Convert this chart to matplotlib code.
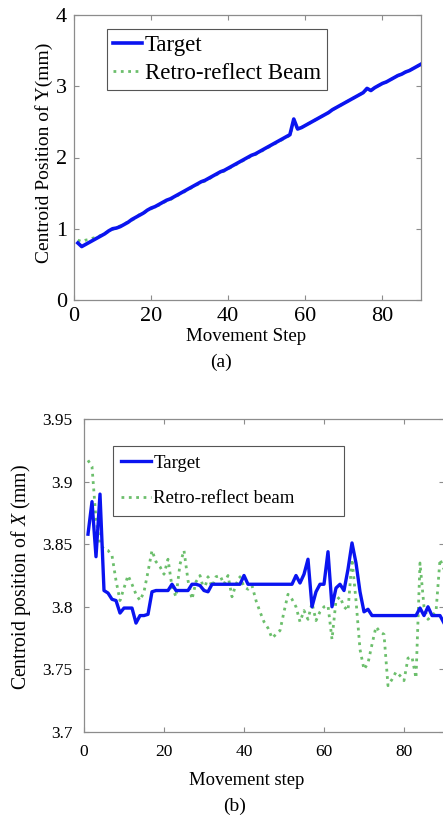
import numpy as np
import matplotlib.pyplot as plt
from matplotlib.ticker import FormatStrFormatter

plt.rcParams['font.family'] = ['Liberation Serif', 'DejaVu Serif']
plt.rcParams['mathtext.fontset'] = 'custom'
plt.rcParams['mathtext.it'] = 'Liberation Serif:italic'
plt.rcParams['mathtext.rm'] = 'Liberation Serif'

# (a) centroid position of Y
steps_a = np.arange(1, 91)
target_y = [0.80, 0.75, 0.78, 0.81, 0.84, 0.87, 0.90, 0.93, 0.97, 1.00,
            1.01, 1.03, 1.06, 1.09, 1.13, 1.16, 1.19, 1.22, 1.26, 1.29,
            1.31, 1.34, 1.37, 1.40, 1.42, 1.45, 1.48, 1.51, 1.54, 1.57,
            1.60, 1.63, 1.66, 1.68, 1.71, 1.74, 1.77, 1.80, 1.82, 1.85,
            1.88, 1.91, 1.94, 1.97, 2.00, 2.03, 2.05, 2.08, 2.11, 2.14,
            2.17, 2.20, 2.23, 2.26, 2.29, 2.32, 2.54, 2.40, 2.42, 2.45,
            2.48, 2.51, 2.54, 2.57, 2.60, 2.63, 2.67, 2.70, 2.73, 2.76,
            2.79, 2.82, 2.85, 2.88, 2.91, 2.97, 2.94, 2.98, 3.01, 3.04,
            3.06, 3.09, 3.12, 3.15, 3.17, 3.20, 3.22, 3.25, 3.28, 3.31]
retro_y = [0.84, 0.82, 0.84, 0.85, 0.87, 0.88, 0.91, 0.94, 0.96, 0.99,
           1.02, 1.04, 1.06, 1.10, 1.12, 1.15, 1.20, 1.22, 1.25, 1.28,
           1.31, 1.33, 1.36, 1.39, 1.41, 1.44, 1.47, 1.50, 1.53, 1.56,
           1.59, 1.62, 1.65, 1.67, 1.70, 1.73, 1.76, 1.79, 1.81, 1.84,
           1.87, 1.90, 1.93, 1.96, 1.99, 2.02, 2.04, 2.07, 2.10, 2.13,
           2.16, 2.19, 2.22, 2.25, 2.28, 2.31, 2.50, 2.40, 2.42, 2.45,
           2.48, 2.51, 2.54, 2.57, 2.60, 2.63, 2.67, 2.70, 2.73, 2.76,
           2.79, 2.82, 2.85, 2.88, 2.91, 2.96, 2.94, 2.98, 3.01, 3.04,
           3.06, 3.09, 3.12, 3.15, 3.17, 3.20, 3.22, 3.25, 3.28, 3.31]

# (b) centroid position of X
steps_b = np.arange(1, 91)
target_x = [3.858, 3.884, 3.840, 3.890, 3.813, 3.811, 3.806, 3.805, 3.795, 3.799,
            3.799, 3.799, 3.787, 3.793, 3.793, 3.794, 3.812, 3.813, 3.813, 3.813,
            3.813, 3.818, 3.813, 3.813, 3.813, 3.813, 3.818, 3.818, 3.817, 3.813,
            3.812, 3.818, 3.818, 3.818, 3.818, 3.818, 3.818, 3.818, 3.818, 3.825,
            3.818, 3.818, 3.818, 3.818, 3.818, 3.818, 3.818, 3.818, 3.818, 3.818,
            3.818, 3.818, 3.825, 3.819, 3.826, 3.838, 3.800, 3.812, 3.818, 3.818,
            3.844, 3.800, 3.815, 3.818, 3.813, 3.830, 3.851, 3.835, 3.812, 3.796,
            3.798, 3.793, 3.793, 3.793, 3.793, 3.793, 3.793, 3.793, 3.793, 3.793,
            3.793, 3.793, 3.793, 3.799, 3.793, 3.800, 3.793, 3.793, 3.793, 3.787]
retro_x = [3.917, 3.912, 3.870, 3.850, 3.846, 3.845, 3.841, 3.821, 3.805, 3.815,
           3.825, 3.818, 3.810, 3.805, 3.812, 3.828, 3.845, 3.836, 3.832, 3.826,
           3.838, 3.816, 3.808, 3.834, 3.845, 3.821, 3.806, 3.820, 3.825, 3.813,
           3.824, 3.816, 3.824, 3.825, 3.818, 3.825, 3.808, 3.818, 3.824, 3.816,
           3.814, 3.817, 3.805, 3.796, 3.788, 3.783, 3.775, 3.778, 3.781, 3.796,
           3.810, 3.806, 3.800, 3.788, 3.797, 3.790, 3.803, 3.789, 3.796, 3.800,
           3.801, 3.774, 3.805, 3.808, 3.800, 3.797, 3.838, 3.805, 3.766, 3.750,
           3.755, 3.770, 3.784, 3.780, 3.778, 3.737, 3.742, 3.748, 3.745, 3.741,
           3.759, 3.760, 3.743, 3.835, 3.800, 3.790, 3.793, 3.796, 3.838, 3.830]

blue = '#0a14f0'
green = '#6cbf6c'
spine_c = '#8c8c8c'

fig = plt.figure(figsize=(4.43, 8.23), dpi=100)

def style(ax, size, pad):
    for s in ax.spines.values():
        s.set_color(spine_c)
        s.set_linewidth(0.9)
    ax.tick_params(direction='in', top=True, right=True, length=3.5,
                   width=0.8, color=spine_c, labelsize=size, pad=pad)

# --- panel (a)
ax1 = fig.add_axes([74/443, 1-300/823, 347/443, 285/823])
ax1.plot(steps_a, target_y, color=blue, lw=2.6, label='Target', zorder=3)
ax1.plot(steps_a, retro_y, color=green, ls=':', lw=2.0, label='Retro-reflect Beam', zorder=2)
ax1.set_xlim(0, 90)
ax1.set_ylim(0, 4)
ax1.set_xticks([0, 20, 40, 60, 80])
ax1.set_yticks([0, 1, 2, 3, 4])
style(ax1, 16, 5)
ax1.set_xlabel('Movement Step', fontsize=13.6)
ax1.xaxis.set_label_coords(0.496, -0.098)
ax1.set_ylabel('Centroid Position of Y(mm)', fontsize=14)
ax1.yaxis.set_label_coords(-0.06, 0.516)
leg1 = ax1.legend(loc='upper left', bbox_to_anchor=(0.095, 0.951),
                  fontsize=16.5, frameon=True, fancybox=False, framealpha=1,
                  edgecolor='#555555', handlelength=1.3, handletextpad=0.1,
                  labelspacing=0.32, borderpad=0.25, borderaxespad=0)
leg1.get_frame().set_linewidth(0.8)
fig.text(221/443, 1-362/823, '(a)', ha='center', va='center', fontsize=14)

# --- panel (b)
ax2 = fig.add_axes([84/443, 1-732/823, 360/443, 313/823])
ax2.plot(steps_b, target_x, color=blue, lw=2.4, label='Target', zorder=3)
ax2.plot(steps_b, retro_x, color=green, ls=':', lw=2.0, label='Retro-reflect beam', zorder=2)
ax2.set_xlim(0, 90)
ax2.set_ylim(3.7, 3.95)
ax2.set_xticks([0, 20, 40, 60, 80])
ax2.set_yticks([3.7, 3.75, 3.8, 3.85, 3.9, 3.95])
ax2.yaxis.set_major_formatter(FormatStrFormatter('%g'))
style(ax2, 12.5, 8.5)
ax2.set_xlabel('Movement step', fontsize=13.4)
ax2.xaxis.set_label_coords(0.453, -0.128)
ax2.set_ylabel(r'Centroid position of $\mathit{X}$ (mm)', fontsize=14.2)
ax2.yaxis.set_label_coords(-0.142, 0.495)
top2 = (732 - 446) / 313
leg2 = ax2.legend(loc='upper left',
                  bbox_to_anchor=((113-84)/360, top2 - 0.3, 231/360, 0.3),
                  mode='expand', fontsize=13.5, frameon=True, fancybox=False,
                  framealpha=1, edgecolor='#555555', handlelength=1.6,
                  handletextpad=0.1, labelspacing=1.0, borderpad=0.45, borderaxespad=0)
leg2.get_frame().set_linewidth(0.8)
fig.text(235/443, 1-806/823, '(b)', ha='center', va='center', fontsize=14)

fig.savefig('out.png', dpi=100)
